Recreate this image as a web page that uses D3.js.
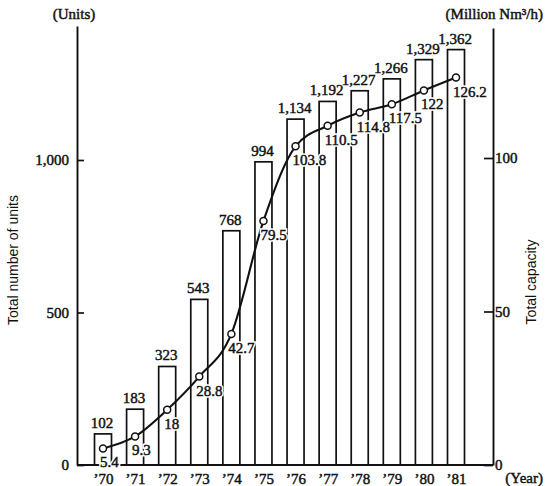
<!DOCTYPE html>
<html>
<head>
<meta charset="utf-8">
<script src="https://cdn.jsdelivr.net/npm/d3@7"></script>
<style>
  body { margin: 0; background: #fff; }
  svg { display: block; }
  .serif { font-family: 'Liberation Serif', 'Times New Roman', serif; }
  .sans { font-family: 'Liberation Sans', Arial, sans-serif; }
</style>
</head>
<body>
<svg width="545" height="486"></svg>
<script>
// data
const years = ['’70', '’71', '’72', '’73', '’74', '’75', '’76', '’77', '’78', '’79', '’80', '’81'];
const units = [102, 183, 323, 543, 768, 994, 1134, 1192, 1227, 1266, 1329, 1362];
const capacity = [5.4, 9.3, 18, 28.8, 42.7, 79.5, 103.8, 110.5, 114.8, 117.5, 122, 126.2];
const unitTicks = [0, 500, 1000];
const capTicks = [0, 50, 100];

const svg = d3.select('svg');
const left = 77;
const right = 493;
const base = 465;
const ink = '#111';

const x = d3.scalePoint().domain(years).range([103, 456]);
const yUnits = d3.scaleLinear().domain([0, 1000]).range([base, 160]);
const yCap = d3.scaleLinear().domain([0, 100]).range([base, 158]);

const rows = years.map((y, i) => ({ year: y, units: units[i], cap: capacity[i] }));
const barW = 17;

// bars
svg.append('g')
  .selectAll('rect')
  .data(rows)
  .enter()
  .append('rect')
  .attr('x', d => x(d.year) - barW / 2)
  .attr('y', d => yUnits(d.units))
  .attr('width', barW)
  .attr('height', d => base - yUnits(d.units))
  .attr('fill', '#fff')
  .attr('stroke', ink)
  .attr('stroke-width', 1.7);

// axes
const leftScale = yUnits.copy().domain([0, yUnits.invert(26)]).range([base, 26]);
const leftAxis = svg.append('g')
  .attr('transform', `translate(${left},0)`)
  .call(d3.axisLeft(leftScale).tickValues(unitTicks).tickFormat(d3.format(','))
    .tickSizeInner(-7).tickSizeOuter(0).tickPadding(8));

const rightScale = yCap.copy().domain([0, yCap.invert(28)]).range([base, 28]);
const rightAxis = svg.append('g')
  .attr('transform', `translate(${right},0)`)
  .call(d3.axisRight(rightScale).tickValues(capTicks)
    .tickSizeInner(-9).tickSizeOuter(0).tickPadding(2));

[leftAxis, rightAxis].forEach((g) => {
  g.select('.domain').attr('stroke', ink).attr('stroke-width', 1.9);
  g.selectAll('.tick line').attr('stroke', ink).attr('stroke-width', 1.7);
  g.selectAll('.tick text').attr('font-size', 15).attr('fill', ink)
    .attr('stroke', ink).attr('stroke-width', 0.45)
    .attr('font-family', "'Liberation Serif', serif");
});

// baseline
svg.append('line')
  .attr('x1', left).attr('x2', right)
  .attr('y1', base).attr('y2', base)
  .attr('stroke', ink).attr('stroke-width', 1.9);

// year labels
const xAxis = svg.append('g')
  .attr('transform', `translate(0,${base})`)
  .call(d3.axisBottom(x).tickSize(0).tickPadding(8));
xAxis.select('.domain').remove();
xAxis.selectAll('.tick text').attr('font-size', 15).attr('fill', ink)
  .attr('stroke', ink).attr('stroke-width', 0.45)
  .attr('font-family', "'Liberation Serif', serif");

svg.append('text')
  .attr('class', 'serif')
  .attr('x', 543).attr('y', 483)
  .attr('text-anchor', 'end')
  .attr('font-size', 15)
  .attr('fill', ink)
  .attr('stroke', ink).attr('stroke-width', 0.45)
  .text('(Year)');

// capacity line
const line = d3.line()
  .x(d => x(d.year))
  .y(d => yCap(d.cap))
  .curve(d3.curveMonotoneX);

svg.append('path')
  .datum(rows)
  .attr('d', line)
  .attr('fill', 'none')
  .attr('stroke', ink)
  .attr('stroke-width', 2.1);

svg.append('g')
  .selectAll('circle')
  .data(rows)
  .enter()
  .append('circle')
  .attr('cx', d => x(d.year))
  .attr('cy', d => yCap(d.cap))
  .attr('r', 3.5)
  .attr('fill', '#fff')
  .attr('stroke', ink)
  .attr('stroke-width', 1.5);

// labels: white halo first so bar edges break behind them, then the ink
const addLabels = (cls, xf, yf, anchor, tf) => {
  const g = svg.append('g').attr('class', `serif ${cls}`);
  [['#fff', 3.5], [ink, 0.45]].forEach(([col, w]) => {
    g.append('g')
      .selectAll('text')
      .data(rows)
      .enter()
      .append('text')
      .attr('x', xf)
      .attr('y', yf)
      .attr('text-anchor', anchor)
      .attr('font-size', 15)
      .attr('fill', ink)
      .attr('stroke', col)
      .attr('stroke-width', w)
      .text(tf);
  });
};

addLabels('bar-labels', d => x(d.year) - 1, d => yUnits(d.units) - 6, 'middle',
  d => d3.format(',')(d.units));
addLabels('cap-labels', d => x(d.year) - 3, d => yCap(d.cap) + 19, 'start',
  d => d.cap);

// unit captions and axis titles
svg.append('text')
  .attr('class', 'serif')
  .attr('x', 74).attr('y', 19)
  .attr('text-anchor', 'middle')
  .attr('font-size', 15)
  .attr('fill', ink)
  .attr('stroke', ink).attr('stroke-width', 0.45)
  .text('(Units)');

svg.append('text')
  .attr('class', 'serif')
  .attr('x', 543).attr('y', 19)
  .attr('text-anchor', 'end')
  .attr('font-size', 15)
  .attr('fill', ink)
  .attr('stroke', ink).attr('stroke-width', 0.45)
  .text('(Million Nm³/h)');

svg.append('text')
  .attr('class', 'sans')
  .attr('transform', 'translate(18,260) rotate(-90)')
  .attr('text-anchor', 'middle')
  .attr('font-size', 14)
  .attr('fill', ink)
  .text('Total number of units');

svg.append('text')
  .attr('class', 'sans')
  .attr('transform', 'translate(536,282) rotate(-90)')
  .attr('text-anchor', 'middle')
  .attr('font-size', 14)
  .attr('fill', ink)
  .text('Total capacity');
</script>
</body>
</html>
